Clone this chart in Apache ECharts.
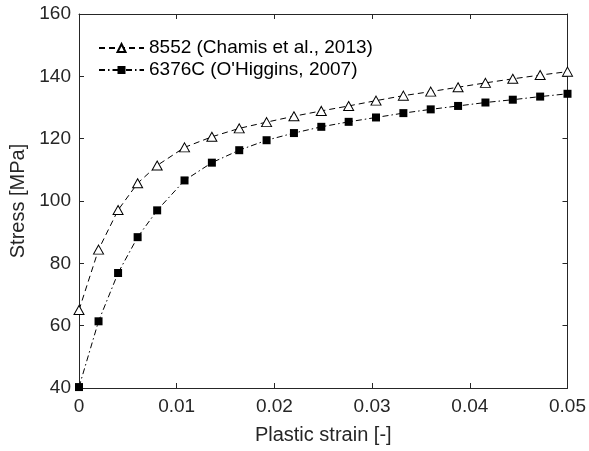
<!DOCTYPE html>
<html>
<head>
<meta charset="utf-8">
<script src="https://cdn.jsdelivr.net/npm/echarts@6/dist/echarts.min.js"></script>
<style>
html,body{margin:0;padding:0;background:#fff;}
#chart{width:589px;height:451px;}
</style>
</head>
<body>
<div id="chart"></div>
<script>
var strain = [0, 0.002, 0.004, 0.006, 0.008, 0.0108, 0.0136, 0.0164, 0.0192, 0.022, 0.0248, 0.0276, 0.0304, 0.0332, 0.036, 0.0388, 0.0416, 0.0444, 0.0472, 0.05];
var stress8552 = [65, 84.4, 97.1, 105.7, 111.4, 117.2, 120.6, 123.3, 125.3, 127.2, 128.9, 130.5, 132.2, 133.8, 135.1, 136.5, 137.9, 139.2, 140.4, 141.5];
var stress6376C = [40.3, 61.4, 76.9, 88.4, 97.0, 106.6, 112.3, 116.3, 119.5, 121.8, 123.8, 125.4, 126.8, 128.2, 129.4, 130.5, 131.6, 132.5, 133.5, 134.4];
var seriesNames = ['8552 (Chamis et al., 2013)', "6376C (O'Higgins, 2007)"];
var xTicks = { min: 0, max: 0.05, interval: 0.01 };
var yTicks = { min: 40, max: 160, interval: 20 };
var xTitle = 'Plastic strain [-]';
var yTitle = 'Stress [MPa]';

function pairs(xs, ys) { return xs.map(function (x, i) { return [x, ys[i]]; }); }

var axisColor = '#262626';
var font = 'Liberation Sans, Arial, Helvetica, sans-serif';
function baseAxis(extra) {
  var a = {
    type: 'value',
    axisLine: { show: true, onZero: false, lineStyle: { color: axisColor, width: 1 } },
    axisTick: { show: true, inside: true, length: 5, lineStyle: { color: axisColor, width: 1 } },
    splitLine: { show: false },
    axisLabel: { show: false }
  };
  for (var k in extra) a[k] = extra[k];
  return a;
}

var chart = echarts.init(document.getElementById('chart'), null, { renderer: 'canvas' });
chart.setOption({
  backgroundColor: '#fff',
  animation: false,
  grid: { left: 79, right: 21, top: 14, bottom: 63, containLabel: false },
  legend: {
    orient: 'vertical',
    left: 93,
    top: 33,
    itemWidth: 45,
    itemHeight: 10,
    itemGap: 2,
    textStyle: { fontFamily: font, fontSize: 19, color: '#000', lineHeight: 20 },
    data: seriesNames
  },
  xAxis: [
    baseAxis({
      position: 'bottom', min: xTicks.min, max: xTicks.max, interval: xTicks.interval,
      name: xTitle, nameLocation: 'middle', nameGap: 37,
      nameTextStyle: { fontFamily: font, fontSize: 20, color: axisColor },
      axisLabel: {
        show: true, margin: 9, fontFamily: font, fontSize: 19, color: axisColor,
        formatter: function (v) { return v === 0 ? '0' : v.toFixed(2); }
      }
    }),
    baseAxis({ position: 'top', min: xTicks.min, max: xTicks.max, interval: xTicks.interval })
  ],
  yAxis: [
    baseAxis({
      position: 'left', min: yTicks.min, max: yTicks.max, interval: yTicks.interval,
      name: yTitle, nameLocation: 'middle', nameGap: 50,
      nameTextStyle: { fontFamily: font, fontSize: 20, color: axisColor },
      axisLabel: { show: true, margin: 8, fontFamily: font, fontSize: 19, color: axisColor }
    }),
    baseAxis({ position: 'right', min: yTicks.min, max: yTicks.max, interval: yTicks.interval })
  ],
  series: [
    {
      name: seriesNames[0], type: 'line', xAxisIndex: 0, yAxisIndex: 0,
      data: pairs(strain, stress8552),
      symbol: 'triangle', symbolSize: [10, 9], showAllSymbol: true,
      lineStyle: { color: '#000', width: 1, type: [6, 4] },
      itemStyle: { color: '#fff', borderColor: '#000', borderWidth: 1 },
      z: 3
    },
    {
      name: seriesNames[1], type: 'line', xAxisIndex: 0, yAxisIndex: 0,
      data: pairs(strain, stress6376C),
      symbol: 'rect', symbolSize: 8, showAllSymbol: true,
      lineStyle: { color: '#000', width: 1, type: [6, 3, 1.5, 3] },
      itemStyle: { color: '#000', borderColor: '#000', borderWidth: 0 },
      z: 3
    }
  ]
});
</script>
</body>
</html>
